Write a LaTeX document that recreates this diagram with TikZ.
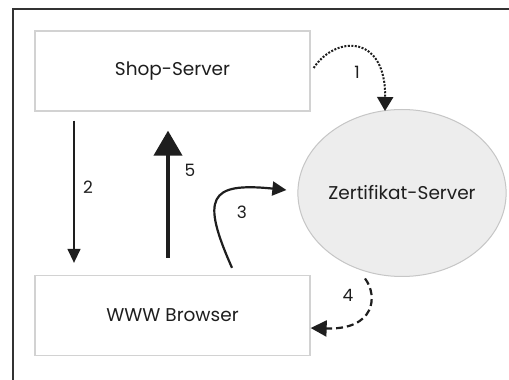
\documentclass[tikz,border=0pt]{standalone}
\usepackage{fontspec}
\setmainfont{Poppins}
\usetikzlibrary{arrows.meta,shapes.geometric}
\definecolor{boxline}{HTML}{D2D2D2}
\definecolor{discfill}{HTML}{EDEDED}
\definecolor{discline}{HTML}{C6C6C6}
\definecolor{ink}{HTML}{1E1E1E}
\tikzset{
  box/.style={draw=boxline, line width=1.3pt, fill=white, minimum width=275pt,
    minimum height=80pt, inner sep=0pt, font=\fontsize{18.5}{21}\selectfont, text=ink},
  disc/.style={ellipse, draw=discline, line width=1pt, fill=discfill,
    minimum width=179pt, minimum height=167pt, inner sep=0pt,
    font=\fontsize{18.5}{21}\selectfont, text=ink},
  num/.style={font=\fontsize{17}{20}\selectfont, text=ink, inner sep=0pt},
  thinarrow/.style={draw=ink, line width=1.4pt, -{Triangle[length=14pt,width=13pt]}},
  boldarrow/.style={draw=ink, line width=4pt, -{Triangle[length=25pt,width=28pt]}},
  curvearrow/.style={draw=ink, line width=2.2pt, -{Triangle[length=14pt,width=14pt]}},
  dotarrow/.style={draw=ink, line width=2pt, dash pattern=on 2pt off 1.5pt,
    -{Triangle[length=14pt,width=16pt]}},
  dasharrow/.style={draw=ink, line width=2.2pt, dash pattern=on 7pt off 4pt,
    -{Triangle[length=16pt,width=16pt]}},
}
\begin{document}
\begin{tikzpicture}[x=1pt,y=1pt]
  \useasboundingbox (0,0) rectangle (509,380);
  \fill[white] (0,0) rectangle (509,380);
  % outer frame (only top and left edges are inside the page)
  \draw[line width=1.3pt, color=black!80] (13,0) -- (13,371) -- (509,371);

  \node[box] (shop) at (172.5,309) {Shop-Server};
  \node[box] (browser) at (172.5,64.5) {WWW Browser};
  \node[disc] (cert) at (402,187) {Zertifikat-Server};

  % 1: shop server asks the certificate server
  \draw[dotarrow] ([shift={(3,3)}]shop.east) .. controls +(22,33) and +(1,77) ..
    ([shift={(-17,-2)}]cert.north);
  % 2: shop server to browser
  \draw[thinarrow] ([shift={(-98.5,-9)}]shop.south) -- ([shift={(-98.5,12)}]browser.north);
  % 3: browser to certificate server
  \draw[curvearrow] ([shift={(59.5,7)}]browser.north) .. controls +(-31,70) and +(-78,8) ..
    ([shift={(-11,3)}]cert.west);
  % 4: certificate server back to browser
  \draw[dasharrow] ([shift={(-37,-1.5)}]cert.south) .. controls +(13,-17) and +(65,-2) ..
    ([shift={(0,-12.5)}]browser.east);
  % 5: browser to shop server
  \draw[boldarrow] ([shift={(-4.5,17)}]browser.north) -- ([shift={(-4.5,-19)}]shop.south);

  \node[num] (n1) at (357,308) {1};
  \node[num] (n2) at (88,193) {2};
  \node[num] (n3) at (242,168) {3};
  \node[num] (n4) at (348,85) {4};
  \node[num] (n5) at (190,210) {5};
\end{tikzpicture}
\end{document}
